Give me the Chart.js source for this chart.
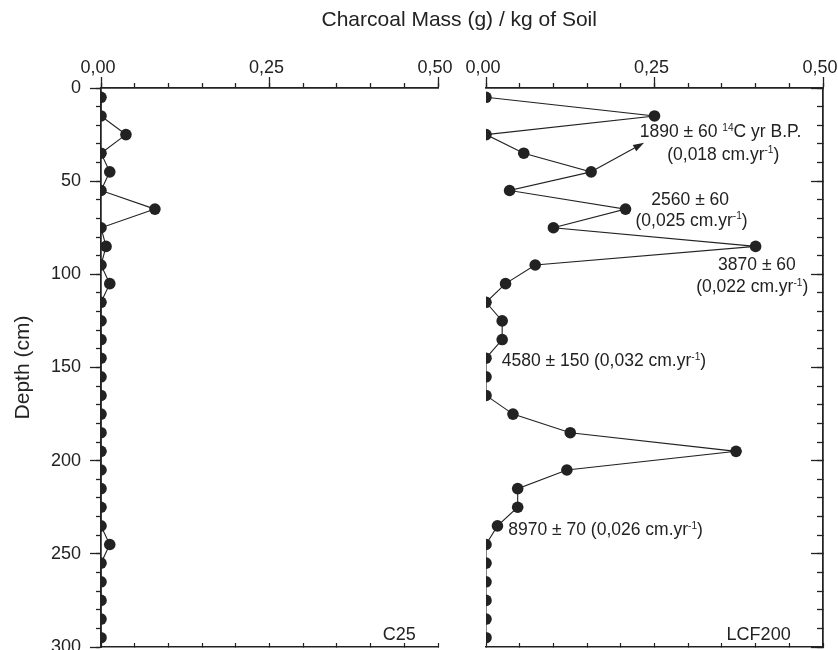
<!DOCTYPE html>
<html>
<head>
<meta charset="utf-8">
<title>Charcoal mass by depth</title>
<script src="https://cdn.jsdelivr.net/npm/chart.js@4.4.1/dist/chart.umd.min.js"></script>
<style>
  html, body { margin: 0; padding: 0; background: #fff; }
  #wrap { position: relative; width: 838px; height: 650px; }
  #wrap canvas { position: absolute; left: 0; top: 0; }
</style>
</head>
<body>
<div id="wrap">
  <canvas id="c25Chart" width="838" height="650"></canvas>
  <canvas id="lcfChart" width="838" height="650"></canvas>
</div>
<script>
// sample depths (cm), one every 10 cm
const depths = [5, 15, 25, 35, 45, 55, 65, 75, 85, 95, 105, 115, 125, 135, 145,
  155, 165, 175, 185, 195, 205, 215, 225, 235, 245, 255, 265, 275, 285, 295];

// charcoal mass (g) / kg of soil
const c25 = [0, 0, 0.037, 0, 0.013, 0, 0.08, 0, 0.0075, 0, 0.013, 0, 0, 0, 0,
  0, 0, 0, 0, 0, 0, 0, 0, 0, 0.013, 0, 0, 0, 0, 0];
const lcf200 = [0, 0.25, 0, 0.056, 0.156, 0.035, 0.207, 0.1, 0.4, 0.073, 0.029, 0, 0.024, 0.024, 0,
  0, 0, 0.04, 0.125, 0.371, 0.12, 0.047, 0.047, 0.017, 0, 0, 0, 0, 0, 0];

const massTicks = [0, 0.25, 0.5];
const depthTicks = [0, 50, 100, 150, 200, 250, 300];

// radiocarbon dates written next to the LCF200 profile
const lcfDates = [
  { x: 0.348, depth: 23, align: "center", parts: [["1890 ± 60 "], ["14", 1], ["C yr B.P."]] },
  { x: 0.352, depth: 35, align: "center", parts: [["(0,018 cm.yr"], ["-1", 1], [")"]] },
  { x: 0.303, depth: 59.2, align: "center", parts: [["2560 ± 60"]] },
  { x: 0.305, depth: 70.5, align: "center", parts: [["(0,025 cm.yr"], ["-1", 1], [")"]] },
  { x: 0.402, depth: 94.5, align: "center", parts: [["3870 ± 60"]] },
  { x: 0.395, depth: 106.1, align: "center", parts: [["(0,022 cm.yr"], ["-1", 1], [")"]] },
  { x: 0.0233, depth: 146, align: "left", parts: [["4580 ± 150 (0,032 cm.yr"], ["-1", 1], [")"]] },
  { x: 0.033, depth: 236.7, align: "left", parts: [["8970 ± 70 (0,026 cm.yr"], ["-1", 1], [")"]] },
];
const arrowFrom = { x: 0.156, depth: 45 };
const arrowTo = { x: 0.2346, depth: 29.4 };

const ink = "#222";
const family = "'Liberation Sans', Arial, Helvetica, sans-serif";
Chart.defaults.font.family = family;
Chart.defaults.color = ink;

const fmtMass = (v) => v.toFixed(2).replace(".", ",");

function drawRich(ctx, parts, x, y, align, size) {
  const supSize = size * 0.58;
  const widthOf = (p) => {
    ctx.font = `${p[1] ? supSize : size}px ${family}`;
    return ctx.measureText(p[0]).width;
  };
  const total = parts.reduce((w, p) => w + widthOf(p), 0);
  let cx = align === "center" ? x - total / 2 : align === "right" ? x - total : x;
  const base = y + size * 0.36;
  ctx.textAlign = "left";
  ctx.textBaseline = "alphabetic";
  ctx.fillStyle = ink;
  for (const p of parts) {
    const w = widthOf(p);
    ctx.fillText(p[0], cx, p[1] ? base - size * 0.36 : base);
    cx += w;
  }
}

// shared axis pieces
function massAxis(extra) {
  return Object.assign({
    type: "linear",
    min: 0,
    max: 0.5,
    border: { color: ink, width: 1.5 },
  }, extra);
}

function massScales() {
  return {
    x: massAxis({
      position: "top",
      weight: 10,
      afterBuildTicks: (s) => { s.ticks = massTicks.map((v) => ({ value: v })); },
      ticks: { callback: fmtMass, font: { size: 18 }, color: ink, padding: -2, labelOffset: -3, maxRotation: 0, autoSkip: false },
      grid: { drawOnChartArea: false, tickLength: 11, color: ink, tickColor: ink, tickWidth: 1.3 },
      afterFit: (s) => { s.height = 88; s.paddingLeft = 0; s.paddingRight = 0; },
    }),
    xMinor: massAxis({
      position: "top",
      weight: 0,
      ticks: { display: false, stepSize: 0.05 },
      grid: { drawOnChartArea: false, tickLength: 5, color: ink, tickColor: ink, tickWidth: 1.3 },
      afterFit: (s) => { s.height = 0; },
    }),
    xBottom: massAxis({
      position: "bottom",
      ticks: { display: false, stepSize: 0.05 },
      grid: { drawOnChartArea: false, tickLength: -4, color: ink, tickColor: ink, tickWidth: 1.2 },
      afterFit: (s) => { s.height = 3; },
    }),
  };
}

function profileDataset(values) {
  return {
    data: depths.map((d, i) => ({ x: values[i], y: d })),
    xAxisID: "x",
    yAxisID: "y",
    borderColor: ink,
    borderWidth: 1.1,
    pointRadius: 5.8,
    pointHoverRadius: 5.8,
    pointBackgroundColor: ink,
    pointBorderWidth: 0,
    tension: 0,
    clip: 0,
  };
}

const panelLabel = (text) => ({
  id: "panelLabel",
  afterDraw(chart) {
    const { x, y } = chart.scales;
    drawRich(chart.ctx, [[text]], x.getPixelForValue(text === "C25" ? 0.467 : 0.452),
      y.getPixelForValue(292.6), "right", 18);
  },
});

// 1. C25 profile (left panel, carries depth axis and the shared title)
new Chart(document.getElementById("c25Chart"), {
  type: "line",
  data: { datasets: [profileDataset(c25)] },
  options: {
    responsive: false,
    animation: false,
    indexAxis: "y",
    layout: { autoPadding: false, padding: { left: 0, right: 400, top: 0, bottom: 0 } },
    plugins: { legend: { display: false }, tooltip: { enabled: false } },
    scales: Object.assign(massScales(), {
      y: {
        type: "linear",
        position: "left",
        reverse: true,
        min: 0,
        max: 300,
        weight: 10,
        afterBuildTicks: (s) => { s.ticks = depthTicks.map((v) => ({ value: v })); },
        ticks: { font: { size: 18 }, color: ink, padding: 9 },
        grid: { drawOnChartArea: false, tickLength: 11, color: ink, tickColor: ink, tickWidth: 1.3 },
        border: { color: ink, width: 1.5 },
        title: { display: true, text: "Depth (cm)", font: { size: 21 }, color: ink, padding: { top: 11, bottom: 0 } },
        afterFit: (s) => { s.width = 101; s.paddingTop = 0; s.paddingBottom = 0; },
      },
      yMinor: {
        type: "linear",
        position: "left",
        reverse: true,
        min: 0,
        max: 300,
        weight: 0,
        ticks: { display: false, stepSize: 10 },
        grid: { drawOnChartArea: false, tickLength: 5, color: ink, tickColor: ink, tickWidth: 1.3 },
        border: { color: ink, width: 1.5 },
        afterFit: (s) => { s.width = 0; },
      },
    }),
  },
  plugins: [
    panelLabel("C25"),
    {
      id: "mainTitle",
      afterDraw(chart) {
        drawRich(chart.ctx, [["Charcoal Mass (g) / kg of Soil"]], chart.width * 0.548, 18, "center", 21);
      },
    },
  ],
});

// 2. LCF200 profile (right panel, with the dates)
new Chart(document.getElementById("lcfChart"), {
  type: "line",
  data: { datasets: [profileDataset(lcf200)] },
  options: {
    responsive: false,
    animation: false,
    indexAxis: "y",
    layout: { autoPadding: false, padding: { left: 486, right: 15, top: 0, bottom: 0 } },
    plugins: { legend: { display: false }, tooltip: { enabled: false } },
    scales: Object.assign(massScales(), {
      yMajor: {
        type: "linear",
        position: "right",
        reverse: true,
        min: 0,
        max: 300,
        afterBuildTicks: (s) => { s.ticks = depthTicks.map((v) => ({ value: v })); },
        ticks: { display: false },
        grid: { drawOnChartArea: false, tickLength: -12, color: ink, tickColor: ink, tickWidth: 1.3 },
        border: { color: ink, width: 1.5 },
        afterFit: (s) => { s.width = 0; s.paddingTop = 0; s.paddingBottom = 0; },
      },
      y: {
        type: "linear",
        position: "right",
        reverse: true,
        min: 0,
        max: 300,
        ticks: { display: false, stepSize: 10 },
        grid: { drawOnChartArea: false, tickLength: -6, color: ink, tickColor: ink, tickWidth: 1.3 },
        border: { color: ink, width: 1.5 },
        afterFit: (s) => { s.width = 0; s.paddingTop = 0; s.paddingBottom = 0; },
      },
    }),
  },
  plugins: [
    panelLabel("LCF200"),
    {
      id: "dates",
      afterDraw(chart) {
        const { ctx } = chart;
        const { x, y } = chart.scales;
        lcfDates.forEach((d) => {
          drawRich(ctx, d.parts, x.getPixelForValue(d.x), y.getPixelForValue(d.depth), d.align, 17.5);
        });
        // arrow from the 45 cm sample to the first date
        const x0 = x.getPixelForValue(arrowFrom.x), y0 = y.getPixelForValue(arrowFrom.depth);
        const x1 = x.getPixelForValue(arrowTo.x), y1 = y.getPixelForValue(arrowTo.depth);
        const a = Math.atan2(y1 - y0, x1 - x0);
        const len = 11, half = 3.6;
        ctx.save();
        ctx.strokeStyle = ink;
        ctx.fillStyle = ink;
        ctx.lineWidth = 1.1;
        ctx.beginPath();
        ctx.moveTo(x0, y0);
        ctx.lineTo(x1 - len * Math.cos(a), y1 - len * Math.sin(a));
        ctx.stroke();
        ctx.beginPath();
        ctx.moveTo(x1, y1);
        ctx.lineTo(x1 - len * Math.cos(a) + half * Math.sin(a), y1 - len * Math.sin(a) - half * Math.cos(a));
        ctx.lineTo(x1 - len * Math.cos(a) - half * Math.sin(a), y1 - len * Math.sin(a) + half * Math.cos(a));
        ctx.closePath();
        ctx.fill();
        ctx.restore();
      },
    },
  ],
});
</script>
</body>
</html>
